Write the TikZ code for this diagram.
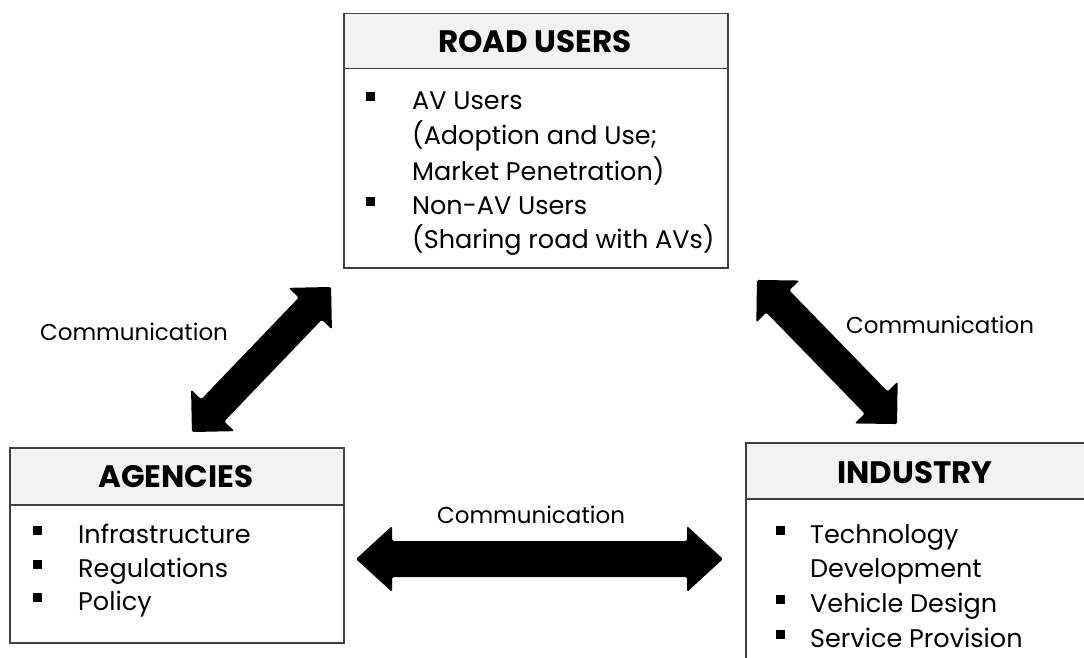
\documentclass[tikz,border=0pt]{standalone}
\usepackage{fontspec}
\setmainfont{Poppins}
\definecolor{edgegray}{HTML}{404040}
\definecolor{hdrfill}{HTML}{F2F2F2}
\newcommand{\blockarrow}[7]{%
  \begin{scope}[shift={(#1,#2)}, rotate=#3]
    \fill[black, rounded corners=1.5pt]
      ({-#4/2},0) -- ({-#4/2+#5},#6) -- ({-#4/2+#5},#7) -- ({#4/2-#5},#7)
      -- ({#4/2-#5},#6) -- ({#4/2},0) -- ({#4/2-#5},-#6) -- ({#4/2-#5},-#7)
      -- ({-#4/2+#5},-#7) -- ({-#4/2+#5},-#6) -- cycle;
  \end{scope}}
\tikzset{
  boxframe/.style={draw=edgegray, line width=1.5pt, inner sep=0pt, anchor=north west, fill=white},
  hdrframe/.style={draw=edgegray, line width=1.5pt, inner sep=0pt, anchor=north west, fill=hdrfill},
  titletext/.style={font=\fontsize{31}{36}\selectfont\bfseries, inner sep=0pt, anchor=base},
  itemtext/.style={font=\fontsize{25.5}{30}\selectfont, inner sep=0pt, anchor=base west},
  commtext/.style={font=\fontsize{23}{30}\selectfont, inner sep=0pt, anchor=base},
  bulletsq/.style={fill=black, draw=none, minimum size=9pt, inner sep=0pt},
}
\begin{document}
\begin{tikzpicture}[x=1pt, y=-1pt]
\useasboundingbox (0,0) rectangle (1084,658);
\clip (0,0) rectangle (1084,658);
% ROAD USERS
\node[boxframe, minimum width=384pt, minimum height=254pt] (ru) at (343,13) {};
\node[hdrframe, minimum width=384pt, minimum height=55pt] (ruh) at (343,13) {};
\node[titletext] (rut) at (535,53) {ROAD USERS};
\node[bulletsq] (rub1) at (370,97) {};
\node[itemtext] (ru1) at (412,110) {AV Users};
\node[itemtext] (ru2) at (412,145) {(Adoption and Use;};
\node[itemtext] (ru3) at (412,180) {Market Penetration)};
\node[bulletsq] (rub2) at (370,201) {};
\node[itemtext] (ru4) at (412,214) {Non-AV Users};
\node[itemtext] (ru5) at (412,248) {(Sharing road with AVs)};
% AGENCIES
\node[boxframe, minimum width=334pt, minimum height=195pt] (ag) at (9,447) {};
\node[hdrframe, minimum width=334pt, minimum height=57pt] (agh) at (9,447) {};
\node[titletext] (agt) at (176,487) {AGENCIES};
\node[bulletsq] (agb1) at (37,530) {};
\node[itemtext] (ag1) at (78,543) {Infrastructure};
\node[bulletsq] (agb2) at (37,564) {};
\node[itemtext] (ag2) at (78,577) {Regulations};
\node[bulletsq] (agb3) at (37,597) {};
\node[itemtext] (ag3) at (78,610) {Policy};
% INDUSTRY
\node[boxframe, minimum width=360pt, minimum height=240pt] (in) at (745,442) {};
\node[hdrframe, minimum width=360pt, minimum height=56pt] (inh) at (745,442) {};
\node[titletext] (int) at (915,483) {INDUSTRY};
\node[bulletsq] (inb1) at (780,530) {};
\node[itemtext] (in1) at (810,543) {Technology};
\node[itemtext] (in2) at (810,577) {Development};
\node[bulletsq] (inb2) at (780,599) {};
\node[itemtext] (in3) at (810,612) {Vehicle Design};
\node[bulletsq] (inb3) at (780,634) {};
\node[itemtext] (in4) at (810,647) {Service Provision};
% arrows
\blockarrow{261.5}{359.5}{46.2}{201}{30}{30}{16}
\blockarrow{827}{352}{-45.8}{201}{30}{30}{16}
\blockarrow{539.5}{559}{0}{367}{36}{33}{18}
% labels
\node[commtext] (c1) at (134,340) {Communication};
\node[commtext] (c2) at (940,333) {Communication};
\node[commtext] (c3) at (531,523) {Communication};
\end{tikzpicture}
\end{document}
